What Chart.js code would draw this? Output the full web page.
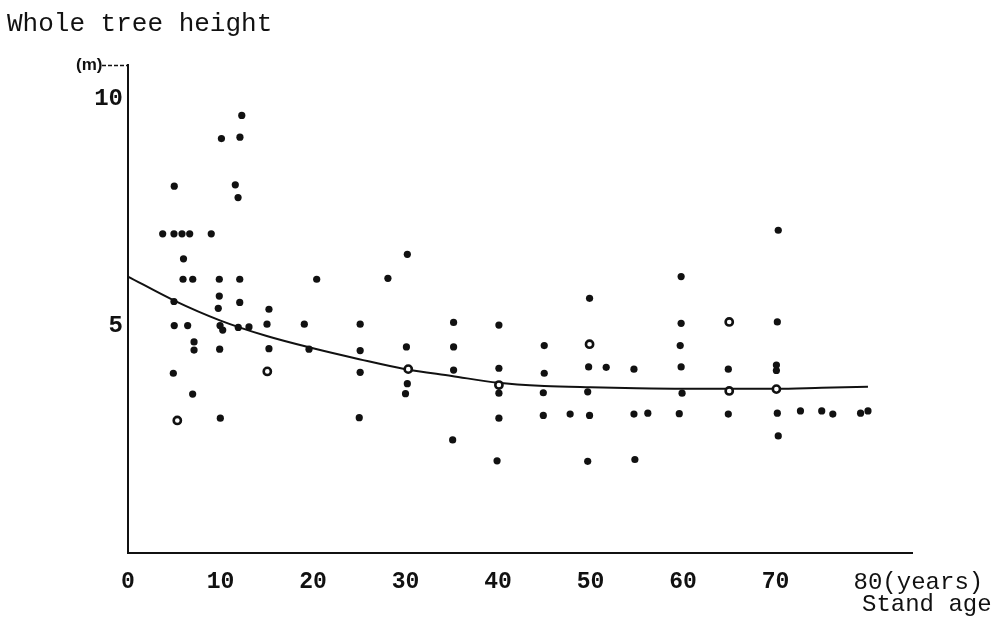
<!DOCTYPE html>
<html>
<head>
<meta charset="utf-8">
<script src="https://cdn.jsdelivr.net/npm/chart.js@4/dist/chart.umd.min.js"></script>
<style>
  html, body { margin: 0; padding: 0; background: #fff; }
  #wrap { width: 994px; height: 624px; }
</style>
</head>
<body>
<div id="wrap"><canvas id="treeChart" width="994" height="624"></canvas></div>
<script>
// stand age (years) and whole tree height (m)
const ages = [
  12.3, 10.1, 12.1, 5.0, 11.6, 11.9, 3.75, 4.97, 5.84, 6.67, 9.0, 6.0,
  5.95, 7.0, 9.87, 12.08, 20.4, 4.97, 9.87, 9.76, 12.08, 15.24,
  5.0, 6.45, 9.95, 10.24, 11.92, 13.08, 15.03, 19.06,
  7.14, 7.14, 9.91, 15.24, 19.57, 4.9, 6.99, 9.98,
  30.2, 28.1, 49.9, 25.1, 35.2, 40.1, 25.1, 30.1, 35.2, 45.0,
  25.1, 35.2, 40.1, 45.0, 49.8, 51.7, 30.2, 30.0, 40.1, 44.9, 49.7,
  25.0, 40.1, 44.9, 47.8, 49.9, 35.1, 39.9, 49.7,
  70.3, 59.8, 59.8, 70.2, 59.7, 54.7, 59.8, 64.9, 70.1, 70.1,
  59.9, 54.7, 56.2, 59.6, 64.9, 70.2, 72.7, 75.0, 76.2, 79.2, 80.0,
  70.3, 54.8
];
const heights = [
  9.64, 9.13, 9.16, 8.08, 8.11, 7.83, 7.03, 7.03, 7.03, 7.03, 7.03, 6.48,
  6.03, 6.03, 6.03, 6.03, 6.03, 5.54, 5.66, 5.39, 5.52, 5.37,
  5.01, 5.01, 5.01, 4.91, 4.97, 4.98, 5.04, 5.04,
  4.65, 4.47, 4.49, 4.5, 4.49, 3.96, 3.5, 2.97,
  6.58, 6.05, 5.61, 5.04, 5.08, 5.02, 4.46, 4.54, 4.54, 4.57,
  3.98, 4.03, 4.07, 3.96, 4.1, 4.09, 3.73, 3.51, 3.52, 3.53, 3.55,
  2.98, 2.97, 3.03, 3.06, 3.03, 2.49, 2.03, 2.02,
  7.11, 6.09, 5.06, 5.09, 4.57, 4.05, 4.1, 4.05, 4.14, 4.02,
  3.52, 3.06, 3.08, 3.07, 3.06, 3.08, 3.13, 3.13, 3.06, 3.08, 3.13,
  2.58, 2.06
];
// hollow dots
const ringAges = [5.33, 15.06, 30.3, 40.1, 49.9, 65.0, 70.1, 65.0];
const ringHeights = [2.92, 4.0, 4.05, 3.7, 4.6, 5.09, 3.61, 3.57];

// fitted curve, read at every 5 years
const curveAges = [0, 5, 10, 15, 20, 25, 30, 35, 40, 45, 50, 55, 60, 65, 70, 75, 80];
const curveHeights = [6.09, 5.56, 5.12, 4.78, 4.51, 4.27, 4.05, 3.9, 3.75, 3.68, 3.65, 3.63, 3.62, 3.62, 3.62, 3.64, 3.66];

const xTicks = [0, 10, 20, 30, 40, 50, 60, 70, 80];
const yTicks = [5, 10];

const ink = '#111';
const mono = "'Liberation Mono', 'DejaVu Sans Mono', monospace";

const toPoints = (xs, ys) => xs.map((x, i) => ({x: x, y: ys[i]}));

const extraText = {
  id: 'extraText',
  afterDraw(chart) {
    const c = chart.ctx;
    const area = chart.chartArea;
    const xs = chart.scales.x;
    c.save();
    c.fillStyle = ink;
    c.textBaseline = 'alphabetic';
    c.textAlign = 'left';
    c.font = '26px ' + mono;
    c.fillText('Whole tree height', 7, 31);

    // unit label and the dashed lead to the axis top
    c.font = "bold 17px 'Liberation Sans Narrow', 'Liberation Sans', sans-serif";
    c.fillText('(m)', 76, 70);
    c.strokeStyle = ink;
    c.lineWidth = 1.5;
    c.setLineDash([4, 2]);
    c.beginPath();
    c.moveTo(102, area.top + 0.5);
    c.lineTo(area.left, area.top + 0.5);
    c.stroke();
    c.setLineDash([]);

    // "(years)" right after the 80 tick, then the axis name
    c.font = '24px ' + mono;
    const x80 = xs.getPixelForValue(80) + c.measureText('80').width / 2;
    c.textBaseline = 'middle';
    c.fillText('(years)', x80, area.bottom + 15 + 14.4);
    c.textBaseline = 'alphabetic';
    c.fillText('Stand age', 862, 611);
    c.restore();
  }
};

const ctx = document.getElementById('treeChart');

new Chart(
  ctx, {
    data: {
      datasets: [
        {
          type: 'scatter',
          label: 'Stands',
          data: toPoints(ages, heights),
          pointRadius: 3.6,
          pointBackgroundColor: ink,
          pointBorderWidth: 0,
          order: 1
        },
        {
          type: 'scatter',
          label: 'Hollow',
          data: toPoints(ringAges, ringHeights),
          pointRadius: 3.6,
          pointBackgroundColor: '#fff',
          pointBorderColor: ink,
          pointBorderWidth: 2.6,
          order: 0
        },
        {
          type: 'line',
          label: 'Fit',
          data: toPoints(curveAges, curveHeights),
          borderColor: ink,
          borderWidth: 2,
          pointRadius: 0,
          fill: false,
          tension: 0.4,
          cubicInterpolationMode: 'monotone',
          order: 3
        }
      ]
    },
    options: {
      responsive: false,
      animation: false,
      layout: { padding: { top: 65, right: 82, left: 0, bottom: 0 } },
      plugins: {
        legend: { display: false },
        tooltip: { enabled: false }
      },
      scales: {
        x: {
          type: 'linear',
          min: 0,
          max: 84.76,
          grid: { display: false, drawTicks: false },
          border: { display: true, color: ink, width: 2 },
          afterBuildTicks: s => { s.ticks = xTicks.map(v => ({value: v})); },
          afterFit: s => { s.height = 71; },
          ticks: {
            padding: 15,
            color: ink,
            font: c => ({
              family: mono,
              size: c.tick && c.tick.value === 80 ? 24 : 23,
              weight: c.tick && c.tick.value === 80 ? 'normal' : 'bold'
            }),
            maxRotation: 0,
            callback: v => String(v)
          }
        },
        y: {
          type: 'linear',
          min: 0,
          max: 10.75,
          grid: { display: false, drawTicks: false },
          border: { display: true, color: ink, width: 2 },
          afterBuildTicks: s => { s.ticks = yTicks.map(v => ({value: v})); },
          afterFit: s => { s.width = 128; },
          ticks: {
            padding: 5,
            color: ink,
            font: { family: mono, size: 24, weight: 'bold' },
            callback: v => String(v)
          }
        }
      }
    },
    plugins: [extraText]
  }
);
</script>
</body>
</html>
